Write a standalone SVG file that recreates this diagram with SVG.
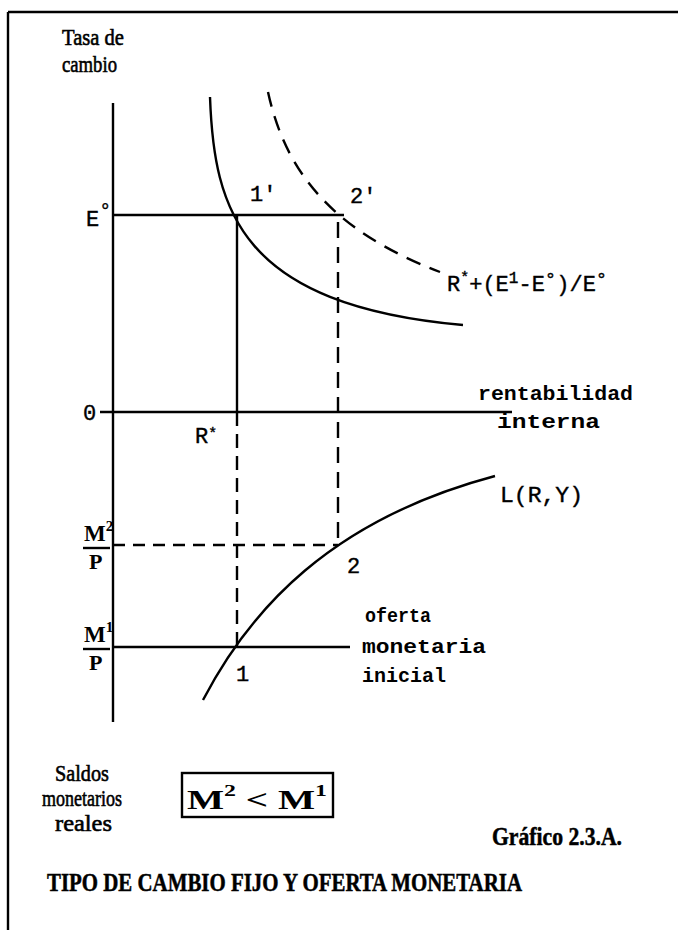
<svg xmlns="http://www.w3.org/2000/svg" width="678" height="930" viewBox="0 0 678 930">
<style>
.ln{stroke:#000;stroke-width:2.4;fill:none}
.ds{stroke:#000;stroke-width:2.4;fill:none;stroke-dasharray:15 10}
.mono{font-family:"Liberation Mono","DejaVu Sans Mono",monospace;font-size:22px;fill:#000;stroke:#000;stroke-width:0.4}
.monob{font-family:"Liberation Mono","DejaVu Sans Mono",monospace;font-size:21px;font-weight:bold;fill:#000}
.ser{font-family:"Liberation Serif","DejaVu Serif",serif;font-size:23px;fill:#000;stroke:#000;stroke-width:0.6}
.serb{font-family:"Liberation Serif","DejaVu Serif",serif;font-weight:bold;fill:#000}
</style>
<rect width="678" height="930" fill="#fff"/>
<g id="frame">
<path class="ln" d="M8,12 H678 M8,12 V930"/>
</g>
<g id="axes">
<line class="ln" x1="113" y1="103" x2="113" y2="722"/>
<line class="ln" x1="100" y1="412" x2="512" y2="412"/>
</g>
<g id="connectors">
<line class="ln" x1="113" y1="215" x2="344" y2="215"/>
<line class="ln" x1="237" y1="215" x2="237" y2="412"/>
<line class="ds" x1="237" y1="412" x2="237" y2="647" style="stroke-dasharray:14 8"/>
<line class="ds" x1="338" y1="222" x2="338" y2="545" style="stroke-dasharray:16 9"/>
<line class="ds" x1="113" y1="545" x2="338" y2="545" style="stroke-dasharray:12 8"/>
<line class="ln" x1="113" y1="647" x2="350" y2="647"/>
</g>
<g id="curves">
<path id="curve-solid" class="ln" d="M210,97 C214,210 240,305 463,325"/>
<path id="curve-dashed" class="ds" d="M268,92 C285,170 330,230 440,272"/>
<path id="curve-L" class="ln" d="M203,700 C250,610 330,520 495,476"/>
</g>
<g id="labels">
<text class="ser" x="62" y="45" textLength="62" lengthAdjust="spacingAndGlyphs">Tasa de</text>
<text class="ser" x="62" y="72" textLength="55" lengthAdjust="spacingAndGlyphs">cambio</text>
<text class="mono" x="86" y="226">E<tspan font-size="20" dy="-9">°</tspan></text>
<text class="mono" x="250" y="201">1'</text>
<text class="mono" x="350" y="203">2′</text>
<text class="mono" x="447" y="291" font-size="23">R<tspan font-size="15" dy="-9">*</tspan><tspan dy="9">+(E</tspan><tspan font-size="16" dy="-8">1</tspan><tspan dy="8">-E</tspan><tspan font-size="19" dy="-6">°</tspan><tspan dy="6">)/E</tspan><tspan font-size="19" dy="-6">°</tspan></text>
<text class="mono" x="83" y="420">0</text>
<text class="monob" x="478" y="400" textLength="155" lengthAdjust="spacingAndGlyphs">rentabilidad</text>
<text class="monob" x="497" y="428" textLength="103" lengthAdjust="spacingAndGlyphs">interna</text>
<text class="mono" x="195" y="443">R<tspan font-size="15" dy="-5">*</tspan></text>
<text class="mono" x="500" y="502" font-size="23" textLength="83" lengthAdjust="spacingAndGlyphs">L(R,Y)</text>
<g id="frac-m2">
<text class="serb" x="84" y="541" font-size="23">M<tspan font-size="15" dy="-10">2</tspan></text>
<line class="ln" x1="83" y1="548" x2="110" y2="548"/>
<text class="serb" x="89" y="569" font-size="22">P</text>
</g>
<g id="frac-m1">
<text class="serb" x="84" y="642" font-size="23">M<tspan font-size="15" dy="-10">1</tspan></text>
<line class="ln" x1="83" y1="649" x2="110" y2="649"/>
<text class="serb" x="89" y="670" font-size="22">P</text>
</g>
<text class="mono" x="347" y="573">2</text>
<text class="mono" x="236" y="681">1</text>
<text class="monob" x="365" y="622" textLength="66" lengthAdjust="spacingAndGlyphs">oferta</text>
<text class="monob" x="362" y="653" textLength="124" lengthAdjust="spacingAndGlyphs">monetaria</text>
<text class="monob" x="362" y="682" textLength="84" lengthAdjust="spacingAndGlyphs">inicial</text>
<text class="ser" x="55" y="781" textLength="54" lengthAdjust="spacingAndGlyphs">Saldos</text>
<text class="ser" x="42" y="806" textLength="80" lengthAdjust="spacingAndGlyphs">monetarios</text>
<text class="ser" x="55" y="831" textLength="57" lengthAdjust="spacingAndGlyphs">reales</text>
</g>
<g id="box">
<rect x="182" y="773" width="151" height="44" fill="none" stroke="#000" stroke-width="2.4"/>
<text class="serb" x="187" y="809" font-size="28" textLength="140" lengthAdjust="spacingAndGlyphs">M<tspan font-size="17" dy="-13">2</tspan><tspan dy="13" font-size="28"> &lt; M</tspan><tspan font-size="17" dy="-13">1</tspan></text>
</g>
<g id="title">
<text class="serb" x="492" y="845" font-size="26" textLength="130" lengthAdjust="spacingAndGlyphs" stroke="#000" stroke-width="0.5">Gráfico 2.3.A.</text>
<text class="serb" x="47" y="891" font-size="25" textLength="475" lengthAdjust="spacingAndGlyphs" stroke="#000" stroke-width="0.5">TIPO DE CAMBIO FIJO Y OFERTA MONETARIA</text>
</g>
</svg>
